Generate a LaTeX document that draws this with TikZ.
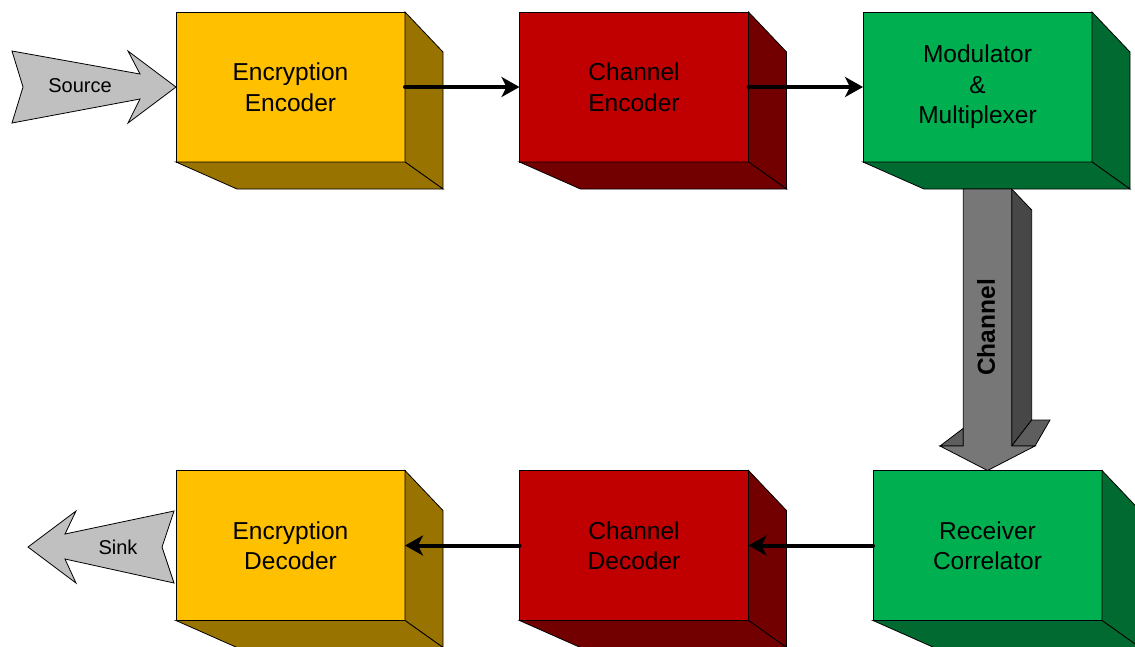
\documentclass[tikz,border=0pt]{standalone}
\usepackage{fontspec}
\setmainfont{Liberation Sans}
\usetikzlibrary{arrows.meta}

\definecolor{yelFront}{HTML}{FFC000}
\definecolor{yelSide}{HTML}{997300}
\definecolor{redFront}{HTML}{C00000}
\definecolor{redSide}{HTML}{730000}
\definecolor{grnFront}{HTML}{00B050}
\definecolor{grnSide}{HTML}{006A30}
\definecolor{tagGray}{HTML}{C0C0C0}
\definecolor{chanFront}{HTML}{777777}
\definecolor{chanSide}{HTML}{474747}
\definecolor{chanTop}{HTML}{5E5E5E}

% side and bottom faces of a 3D block, hung on its front node
\newcommand\blockdepth[2]{%
  \filldraw[face, fill=#2] (#1.north east) -- ++(38,40)
    -- ([shift={(38,27)}]#1.south east) -- (#1.south east) -- cycle;
  \filldraw[face, fill=#2] (#1.south west) -- (#1.south east)
    -- ([shift={(38,27)}]#1.south east) -- ([shift={(61,27)}]#1.south west) -- cycle;
}

\begin{document}
\begin{tikzpicture}[x=1pt,y=-1pt,
  face/.style={draw=black, line width=0.8pt, line join=miter},
  block/.style={face, minimum width=229pt, minimum height=150pt,
    inner sep=0pt, outer sep=0pt, align=center,
    font=\fontsize{24.5}{30.5}\selectfont},
  conn/.style={line width=4pt, line cap=round,
    -{Stealth[length=18pt,width=20pt,inset=5pt]}},
  tag/.style={face, fill=tagGray},
  taglabel/.style={font=\fontsize{20}{24}\selectfont},
]
\useasboundingbox (0,0) rectangle (1135,646);
\clip (0,0) rectangle (1135,646);

% transmitter row
\node[block, fill=yelFront] (enc)   at (290.5,87) {Encryption\\Encoder};
\node[block, fill=redFront] (chenc) at (634,87)   {Channel\\Encoder};
\node[block, fill=grnFront] (mod)   at (977.5,87) {Modulator\\\&\\Multiplexer};
% receiver row
\node[block, fill=yelFront] (dec)   at (290.5,545.5) {Encryption\\Decoder};
\node[block, fill=redFront] (chdec) at (634,545.5)   {Channel\\Decoder};
\node[block, fill=grnFront] (rec)   at (987.5,545.5) {Receiver\\Correlator};

\blockdepth{enc}{yelSide}
\blockdepth{chenc}{redSide}
\blockdepth{mod}{grnSide}
\blockdepth{dec}{yelSide}
\blockdepth{chdec}{redSide}
\blockdepth{rec}{grnSide}

% source and sink tags
\filldraw[tag] (12,51) -- (140,74) -- (128,51) -- (enc.west) -- (128,123)
  -- (140,99) -- (12,123) -- (23,87) -- cycle;
\node[taglabel] (src) at (80,86) {Source};
\filldraw[tag] (28,547) -- (76,511) -- (65,534) -- (174,511) -- (162,547)
  -- (174,583) -- (65,559) -- (76,583) -- cycle;
\node[taglabel] (snk) at (118,547) {Sink};

% channel arrow
\filldraw[face, fill=chanSide] (1011.7,189) -- (1031.7,210) -- (1031.7,420) -- (1011.7,446) -- cycle;
\filldraw[face, fill=chanTop] (1011.7,446) -- (1031.7,420) -- (1050,420) -- (1035,446) -- cycle;
\filldraw[face, fill=chanTop] (940,446) -- (963.3,428.3) -- (963.3,446) -- cycle;
\filldraw[face, fill=chanFront] (963.3,189) -- (1011.7,189) -- (1011.7,446)
  -- (1035,446) -- (rec.north) -- (940,446) -- (963.3,446) -- cycle;
\node[rotate=90, font=\fontsize{24.5}{28}\selectfont\bfseries] (chan) at (986,327.5) {Channel};

% signal flow
\draw[conn] (enc.east) -- (chenc.west);
\draw[conn] (chenc.east) -- (mod.west);
\draw[conn] (rec.west) -- (chdec.east);
\draw[conn] (chdec.west) -- (dec.east);
\end{tikzpicture}
\end{document}
